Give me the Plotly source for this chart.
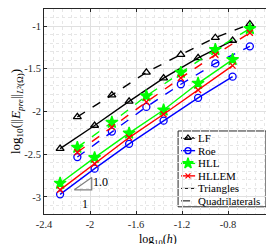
import plotly.graph_objects as go

# log10(h) for triangle and quadrilateral meshes
x_tri = [-2.26, -1.96, -1.66, -1.36, -1.06, -0.76]
x_quad = [-2.11, -1.81, -1.51, -1.21, -0.91, -0.61]

# Triangles
lf_tri = [-2.435, -2.164, -1.881, -1.610, -1.373, -1.169]
roe_tri = [-2.97, -2.669, -2.379, -2.107, -1.840, -1.592]
hll_tri = [-2.84, -2.54, -2.254, -1.983, -1.67, -1.392]
hllem_tri = [-2.917, -2.612, -2.305, -2.032, -1.749, -1.463]

# Quadrilaterals
lf_quad = [-2.062, -1.808, -1.542, -1.333, -1.136, -0.977]
roe_quad = [-2.533, -2.235, -1.946, -1.681, -1.437, -1.237]
hll_quad = [-2.42, -2.127, -1.818, -1.542, -1.275, -1.03]
hllem_quad = [-2.477, -2.183, -1.889, -1.607, -1.335, -1.079]

# slope triangle
slope_x = [-2.137, -1.985, -1.985, -2.137]
slope_y = [-2.917, -2.917, -2.774, -2.917]

x_ticks = [-2.4, -2, -1.6, -1.2, -0.8, -0.4]
x_ticklabels = ["-2.4", "-2", "-1.6", "-1.2", "-0.8", "-0.4"]
y_ticks = [-3, -2.5, -2, -1.5, -1]
y_ticklabels = ["-3", "-2.5", "-2", "-1.5", "-1"]

methods = ["LF", "Roe", "HLL", "HLLEM"]
legend_labels = ["LF", "Roe", "HLL", "HLLEM", "Triangles", "Quadrilaterals"]
colors = {"LF": "black", "Roe": "#0000ff", "HLL": "#00ff00", "HLLEM": "#ff0000"}
symbols = {"LF": "triangle-up-open", "Roe": "circle-open", "HLL": "star", "HLLEM": "x-thin-open"}
sizes = {"LF": 7, "Roe": 7, "HLL": 9, "HLLEM": 6}
tri = {"LF": lf_tri, "Roe": roe_tri, "HLL": hll_tri, "HLLEM": hllem_tri}
quad = {"LF": lf_quad, "Roe": roe_quad, "HLL": hll_quad, "HLLEM": hllem_quad}

FONT = "Liberation Serif, Times New Roman, serif"
MB = 38  # bottom margin (px)
PH = 244 - 1 - MB  # plot height (px)

fig = go.Figure()

for m in methods:
    mk = dict(symbol=symbols[m], size=sizes[m], color=colors[m],
              line=dict(color=colors[m], width=1.3))
    fig.add_trace(go.Scatter(x=x_quad, y=quad[m], mode="lines+markers",
                             line=dict(color=colors[m], width=1.4, dash="dash"),
                             marker=mk, showlegend=False))
    fig.add_trace(go.Scatter(x=x_tri, y=tri[m], mode="lines+markers",
                             line=dict(color=colors[m], width=1.4),
                             marker=mk, showlegend=False))

fig.add_trace(go.Scatter(x=slope_x, y=slope_y, mode="lines",
                         line=dict(color="#808080", width=1.2), showlegend=False))

fig.add_annotation(x=-1.99, y=-2.83, text="1.0", showarrow=False, xanchor="left",
                   font=dict(family=FONT, size=12, color="black"))
fig.add_annotation(x=-2.04, y=-3.08, text="1", showarrow=False,
                   font=dict(family=FONT, size=12, color="black"))

# x-axis title as annotation, anchored near the bottom of the canvas
fig.add_annotation(xref="paper", yref="paper", x=0.496, y=-MB / PH, yanchor="bottom", yshift=2,
                   text="log<sub>10</sub>(<i>h</i>)", showarrow=False,
                   font=dict(family=FONT, size=12, color="black"))

# ---- custom legend (paper coordinates) ----
box_x0, box_x1, box_y0, box_y1 = 0.583, 0.965, 0.035, 0.405
row_y = [0.371, 0.309, 0.247, 0.186, 0.125, 0.064]
line_x0, line_x1, mark_x, text_x = 0.596, 0.657, 0.626, 0.662

fig.add_shape(type="rect", xref="paper", yref="paper", x0=box_x0, x1=box_x1, y0=box_y0, y1=box_y1,
              line=dict(color="#262626", width=1), fillcolor="white", layer="between")
for i, lab in enumerate(legend_labels):
    col = colors.get(lab, "black")
    dash = "dash" if lab == "Quadrilaterals" else "solid"
    fig.add_shape(type="line", xref="paper", yref="paper", x0=line_x0, x1=line_x1,
                  y0=row_y[i], y1=row_y[i],
                  line=dict(color=col, width=1.4 if lab in colors else 1, dash=dash),
                  layer="between")
    fig.add_annotation(xref="paper", yref="paper", x=text_x, y=row_y[i], text=lab, showarrow=False,
                       xanchor="left", yanchor="middle",
                       font=dict(family=FONT, size=11, color="black"))
for i, m in enumerate(methods):
    fig.add_trace(go.Scatter(x=[mark_x], y=[row_y[i]], xaxis="x2", yaxis="y2", mode="markers",
                             marker=dict(symbol=symbols[m], size=sizes[m] - 1, color=colors[m],
                                         line=dict(color=colors[m], width=1.3)),
                             showlegend=False, cliponaxis=False))

axis_common = dict(showline=True, linecolor="#262626", linewidth=1, mirror="ticks",
                   ticks="inside", ticklen=3, tickcolor="#262626", automargin=False,
                   showgrid=True, gridcolor="#e0e0e0", gridwidth=1, zeroline=False,
                   tickfont=dict(family=FONT, size=10.5, color="#262626"))

fig.update_layout(xaxis=dict(range=[-2.4, -0.4], tickvals=x_ticks, ticktext=x_ticklabels,
                             minor=dict(dtick=0.08, showgrid=True, gridcolor="#e6e6e6", griddash="dot", ticks=""),
                             **axis_common),
                  yaxis=dict(range=[-3.2, -0.8], tickvals=y_ticks, ticktext=y_ticklabels,
                             minor=dict(dtick=0.1, showgrid=True, gridcolor="#e6e6e6", griddash="dot", ticks=""),
                             title=dict(text="log<sub>10</sub>(||<i>E</i><sub><i>pre</i></sub>||<sub><i>L</i>²(Ω)</sub>)",
                                        font=dict(family=FONT, size=13, color="black"), standoff=2),
                             **axis_common),
                  xaxis2=dict(overlaying="x", range=[0, 1], visible=False, domain=[0, 1]),
                  yaxis2=dict(overlaying="y", range=[0, 1], visible=False, domain=[0, 1]),
                  width=274, height=244, margin=dict(l=36, r=8, t=1, b=MB),
                  plot_bgcolor="white", paper_bgcolor="white", showlegend=False)

fig.write_html("out.html")
